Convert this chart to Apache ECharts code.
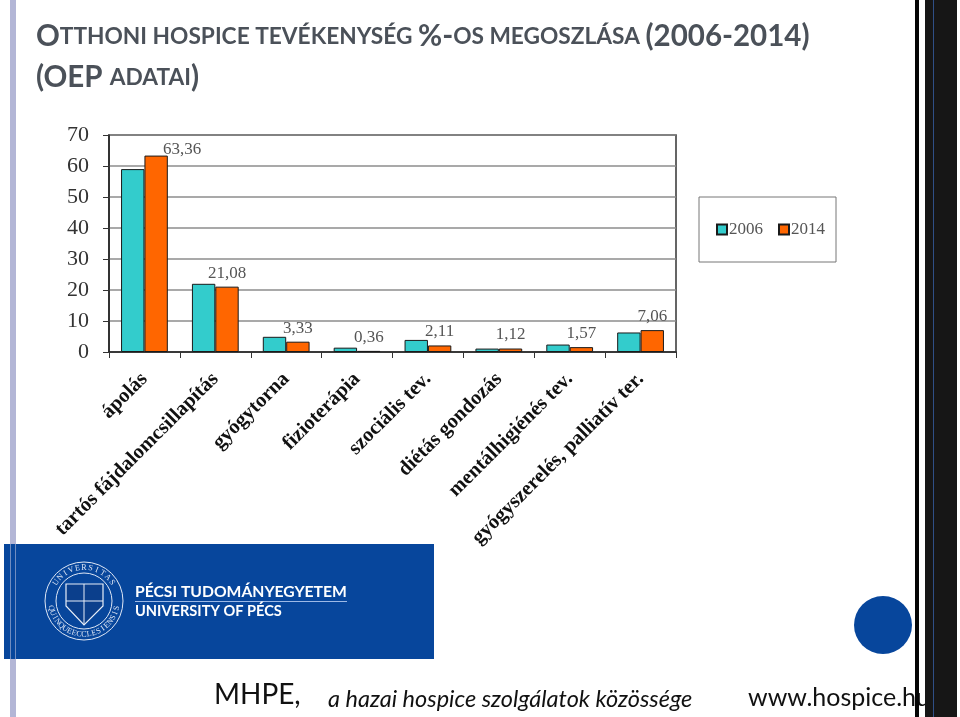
<!DOCTYPE html>
<html>
<head>
<meta charset="utf-8">
<style>
  html, body { margin: 0; padding: 0; background: #fff; }
  #chart { width: 960px; height: 717px; }
</style>
<script src="https://cdn.jsdelivr.net/npm/echarts@6/dist/echarts.min.js"></script>
</head>
<body>
<div id="chart"></div>
<script>
const categories = ['ápolás', 'tartós fájdalomcsillapítás', 'gyógytorna', 'fizioterápia', 'szociális tev.',
  'diétás gondozás', 'mentálhigiénés tev.', 'gyógyszerelés, palliatív ter.'];
const values2006 = [59, 22, 4.9, 1.4, 3.9, 1.1, 2.4, 6.3];
const values2014 = [63.36, 21.08, 3.33, 0.36, 2.11, 1.12, 1.57, 7.06];
const seriesNames = ['2006', '2014'];
const yTicks = { min: 0, max: 70, interval: 10 };

const serif = '"Liberation Serif", serif';
const sans = 'Lato, "Open Sans", sans-serif';
const blue = '#07469c';

// pecset koruli betuk egyenkent
function ringText(str, cx, cy, r, startDeg, endDeg, flip) {
  const out = [];
  const n = str.length;
  for (let i = 0; i < n; i++) {
    const deg = startDeg + (endDeg - startDeg) * (i + 0.5) / n;
    const a = deg * Math.PI / 180;
    out.push({
      type: 'text', z: 12,
      x: cx + r * Math.sin(a), y: cy - r * Math.cos(a),
      rotation: flip ? Math.PI - a : -a,
      style: { text: str[i], fill: '#dfe7f5', font: '8px ' + serif, align: 'center', verticalAlign: 'middle' }
    });
  }
  return out;
}

const crest = [
  { type: 'circle', z: 11, shape: { cx: 84, cy: 601, r: 39 }, style: { fill: 'none', stroke: '#dfe7f5', lineWidth: 1 } },
  { type: 'circle', z: 11, shape: { cx: 84, cy: 601, r: 28 }, style: { fill: 'none', stroke: '#dfe7f5', lineWidth: 1 } },
  { type: 'polygon', z: 11, shape: { points: [[66, 584], [103, 584], [103, 606], [84, 625], [66, 606]] },
    style: { fill: '#0b3f8c', stroke: '#e8eef8', lineWidth: 1.2 } },
  { type: 'line', z: 11, shape: { x1: 84, y1: 584, x2: 84, y2: 625 }, style: { stroke: '#e8eef8', lineWidth: 1 } },
  { type: 'line', z: 11, shape: { x1: 66, y1: 601, x2: 103, y2: 601 }, style: { stroke: '#e8eef8', lineWidth: 1 } },
  ...ringText('UNIVERSITAS', 84, 601, 33.5, -62, 62, false),
  ...ringText('QUINQUEECCLESIENSIS', 84, 601, 33.5, 262, 98, true)
];

const decoration = [
  // bal oldali fuggoleges csik
  { type: 'rect', z: 1, shape: { x: 10, y: 0, width: 6, height: 717 }, style: { fill: '#b3b6d6' } },
  // kek fejlec-csik a logoval
  { type: 'rect', z: 10, shape: { x: 4, y: 544, width: 430, height: 115 }, style: { fill: blue } },
  { type: 'rect', z: 11, shape: { x: 10, y: 544, width: 1, height: 115 }, style: { fill: '#6f8cc0' } },
  { type: 'rect', z: 11, shape: { x: 15, y: 544, width: 1, height: 115 }, style: { fill: '#6f8cc0' } },
  ...crest,
  { type: 'text', z: 12, x: 135, y: 592, style: { text: 'PÉCSI TUDOMÁNYEGYETEM', fill: '#fff', font: 'bold 15.7px ' + sans, verticalAlign: 'middle' } },
  { type: 'rect', z: 12, shape: { x: 135, y: 601, width: 212, height: 1 }, style: { fill: '#9db9e6' } },
  { type: 'text', z: 12, x: 135, y: 611, style: { text: 'UNIVERSITY OF PÉCS', fill: '#fff', font: 'bold 14.6px ' + sans, verticalAlign: 'middle' } },
  // lablec
  { type: 'text', z: 5, x: 214, y: 695, style: { text: 'MHPE,', fill: '#111', font: '28px ' + sans, verticalAlign: 'middle' } },
  { type: 'text', z: 5, x: 328, y: 699, style: { text: 'a hazai hospice szolgálatok közössége', fill: '#111', font: 'italic 23.5px ' + sans, verticalAlign: 'middle' } },
  { type: 'text', z: 5, x: 748, y: 698, style: { text: 'www.hospice.hu', fill: '#111', font: '25px ' + sans, verticalAlign: 'middle' } },
  { type: 'circle', z: 10, shape: { cx: 883, cy: 625, r: 29 }, style: { fill: blue } },
  // jobb oldali sotet savok
  { type: 'rect', z: 10, shape: { x: 915, y: 0, width: 4, height: 717 }, style: { fill: '#050505' } },
  { type: 'rect', z: 10, shape: { x: 925, y: 0, width: 32, height: 717 }, style: { fill: '#161616' } },
  { type: 'rect', z: 11, shape: { x: 933, y: 0, width: 1, height: 717 }, style: { fill: '#2f4f86' } }
];

const labelItems = values2014.map((v, i) => ({
  value: v,
  // az elso felirat a masik oszlop mellett all
  label: i === 0 ? { offset: [26, 7] } : {}
}));

const option = {
  animation: false,
  backgroundColor: '#fff',
  title: {
    left: 36, top: 16, padding: 0,
    text: '{a|O}{b|TTHONI HOSPICE TEVÉKENYSÉG }{a|%-}{b|OS MEGOSZLÁSA }{a|(2006-2014)}\n{a|(OEP }{b|ADATAI}{a|)}',
    textStyle: {
      rich: {
        a: { fontFamily: sans, fontWeight: 'bold', fontSize: 29.5, color: '#4b5159', lineHeight: 41 },
        b: { fontFamily: sans, fontWeight: 'bold', fontSize: 22.7, color: '#4b5159', lineHeight: 41 }
      }
    }
  },
  legend: {
    left: 699, top: 197,
    padding: [24, 11, 24, 17],
    data: seriesNames,
    orient: 'horizontal',
    icon: 'rect',
    itemWidth: 10, itemHeight: 10, itemGap: 15,
    borderColor: '#777', borderWidth: 1,
    textStyle: { fontFamily: serif, fontSize: 17, color: '#555', padding: [0, 0, 0, -3] }
  },
  grid: { left: 109, top: 135, width: 567, height: 217, show: true, borderColor: '#333', borderWidth: 1.5, backgroundColor: '#fff' },
  xAxis: {
    type: 'category',
    data: categories,
    axisLine: { lineStyle: { color: '#222', width: 1.5 } },
    axisTick: { show: true, length: 6, alignWithLabel: false, lineStyle: { color: '#333' } },
    axisLabel: {
      interval: 0, rotate: 45, margin: 24,
      fontFamily: serif, fontWeight: 'bold', fontSize: 20.5, color: '#111'
    }
  },
  yAxis: {
    type: 'value',
    min: yTicks.min, max: yTicks.max, interval: yTicks.interval,
    axisLine: { show: true, lineStyle: { color: '#222', width: 1.5 } },
    axisTick: { show: true, length: 6, lineStyle: { color: '#333' } },
    axisLabel: { margin: 20, fontFamily: serif, fontSize: 22, color: '#333' },
    splitLine: { show: true, lineStyle: { color: '#8c8c8c', width: 1.5 } }
  },
  series: [
    {
      name: seriesNames[0], type: 'bar', data: values2006,
      barGap: 0, barCategoryGap: '34%',
      itemStyle: { color: '#33cccc', borderColor: '#1a1a1a', borderWidth: 1 }
    },
    {
      name: seriesNames[1], type: 'bar', data: labelItems,
      itemStyle: { color: '#ff6600', borderColor: '#1a1a1a', borderWidth: 1 },
      label: {
        show: true, position: 'top', distance: 5,
        fontFamily: serif, fontSize: 17, color: '#555',
        formatter: p => String(p.value).replace('.', ',')
      }
    }
  ],
  graphic: decoration
};

const myChart = echarts.init(document.getElementById('chart'));
myChart.setOption(option);
</script>
</body>
</html>
